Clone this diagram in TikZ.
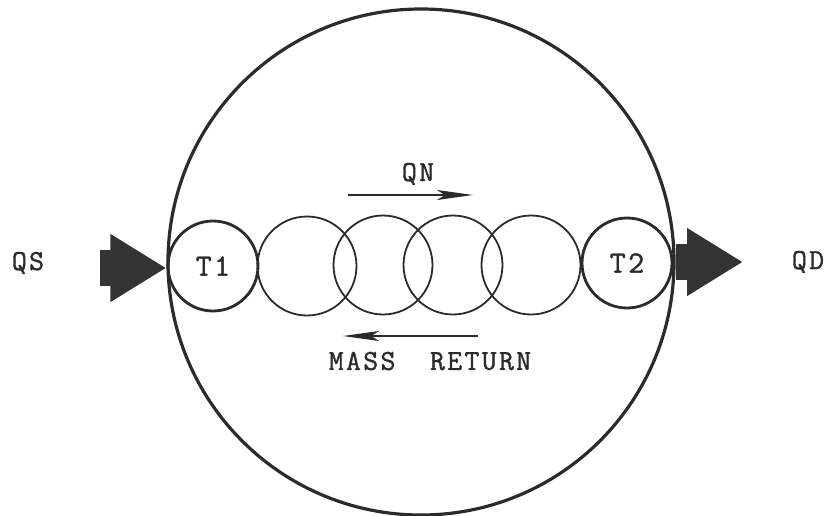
\documentclass[tikz,border=0pt]{standalone}
\usepackage{fontspec}
\usepackage{xcolor}
\usepackage{tikz}
\usetikzlibrary{arrows.meta,positioning}
\newfontfamily\typew{Latin Modern Mono}[LetterSpace=8,FakeBold=1.2]
\definecolor{pink}{HTML}{2B2B2B}
\definecolor{pdark}{HTML}{333333}

\begin{document}
\begin{tikzpicture}[x=1pt,y=-1pt,
    every node/.style={font=\typew\fontsize{29}{30}\selectfont,text=pink},
    vessel/.style={circle,draw=pink,line width=3.2pt,minimum size=506pt,inner sep=0pt},
    tank/.style={circle,draw=pink,line width=2.8pt,minimum size=90pt,inner sep=0pt,
                 font=\typew\fontsize{31}{32}\selectfont},
    cell/.style={circle,draw=pink,line width=1.8pt,minimum size=99pt,inner sep=0pt},
    fatarrow/.style={draw=pdark,line width=36pt,-{Triangle[length=56pt,width=64pt]}},
    flowarrow/.style={draw=pink,line width=2pt,-{Stealth[length=36pt,width=10pt,inset=8pt]}}]
  \useasboundingbox (0,0) rectangle (829,515);
  % outer vessel
  \node[vessel] (big) at (421,262) {};
  % chain of cells
  \node[tank] (t1) at (213,266) {T1};
  \node[cell] (c2) at (307,266) {};
  \node[cell] (c3) at (383,265) {};
  \node[cell] (c4) at (453,265) {};
  \node[cell] (c5) at (531,265) {};
  \node[tank] (t2) at (627,263) {T2};
  % supply and delivery
  \node (qs) at (28,263) {QS};
  \node (qd) at (808,262) {QD};
  \coordinate (qsin) at (100,268);
  \coordinate (qdout) at (743,262);
  \draw[fatarrow] (qsin) -- (big.west |- qsin);
  \draw[fatarrow] (big.east |- qdout) -- (qdout);
  % flows along the chain
  \node (qn) at (418,174) {QN};
  \coordinate (qna) at (348,195);
  \coordinate (qnb) at (473,195);
  \draw[flowarrow] (qna) -- (qnb);
  \node (mr) at (430,361) {MASS\ \ RETURN};
  \coordinate (mra) at (478,336);
  \coordinate (mrb) at (343,336);
  \draw[flowarrow] (mra) -- (mrb);
\end{tikzpicture}
\end{document}
